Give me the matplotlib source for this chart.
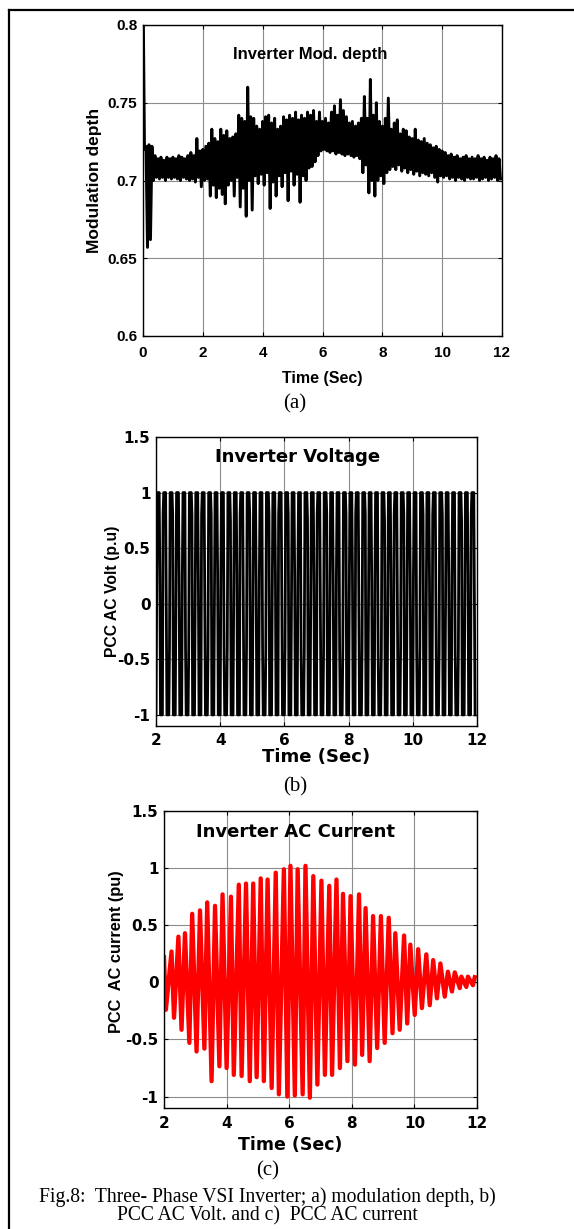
import numpy as np
import matplotlib
matplotlib.use("Agg")
import matplotlib.pyplot as plt
from matplotlib.lines import Line2D

# ---------------- data ----------------
# (a) modulation depth: upper / lower extremes of the trace every 0.1 s (0 .. 11.9 s)
mod_t = np.arange(0.0, 12.0, 0.1)
mod_hi = [0.830, 0.722, 0.723, 0.722, 0.716, 0.714, 0.715, 0.713, 0.715, 0.714,
          0.715, 0.714, 0.716, 0.715, 0.714, 0.716, 0.718, 0.716, 0.727, 0.719,
          0.720, 0.722, 0.724, 0.733, 0.727, 0.725, 0.733, 0.729, 0.732, 0.727,
          0.728, 0.730, 0.742, 0.740, 0.738, 0.760, 0.741, 0.740, 0.735, 0.733,
          0.738, 0.741, 0.742, 0.737, 0.740, 0.733, 0.735, 0.741, 0.739, 0.742,
          0.740, 0.744, 0.739, 0.742, 0.740, 0.744, 0.742, 0.745, 0.738, 0.744,
          0.738, 0.740, 0.737, 0.744, 0.748, 0.742, 0.752, 0.745, 0.741, 0.737,
          0.738, 0.735, 0.737, 0.740, 0.754, 0.740, 0.765, 0.742, 0.750, 0.738,
          0.735, 0.740, 0.753, 0.733, 0.737, 0.739, 0.730, 0.733, 0.732, 0.728,
          0.727, 0.733, 0.726, 0.725, 0.727, 0.724, 0.723, 0.721, 0.722, 0.720,
          0.719, 0.718, 0.716, 0.717, 0.715, 0.716, 0.714, 0.715, 0.716, 0.714,
          0.715, 0.714, 0.716, 0.714, 0.715, 0.713, 0.715, 0.714, 0.716, 0.714]
mod_lo = [0.720, 0.657, 0.662, 0.700, 0.702, 0.701, 0.702, 0.700, 0.702, 0.701,
          0.702, 0.701, 0.700, 0.702, 0.701, 0.700, 0.701, 0.699, 0.702, 0.696,
          0.700, 0.701, 0.690, 0.697, 0.689, 0.695, 0.691, 0.685, 0.697, 0.700,
          0.690, 0.702, 0.683, 0.695, 0.677, 0.700, 0.681, 0.703, 0.698, 0.704,
          0.697, 0.705, 0.682, 0.699, 0.690, 0.703, 0.696, 0.705, 0.687, 0.706,
          0.697, 0.704, 0.686, 0.703, 0.700, 0.708, 0.709, 0.712, 0.716, 0.719,
          0.720, 0.719, 0.718, 0.719, 0.717, 0.718, 0.717, 0.716, 0.717, 0.716,
          0.715, 0.716, 0.714, 0.705, 0.710, 0.692, 0.700, 0.690, 0.700, 0.703,
          0.698, 0.705, 0.707, 0.709, 0.707, 0.710, 0.706, 0.708, 0.705, 0.707,
          0.704, 0.706, 0.703, 0.705, 0.704, 0.703, 0.705, 0.702, 0.699, 0.703,
          0.702, 0.703, 0.701, 0.702, 0.700, 0.702, 0.701, 0.700, 0.702, 0.701,
          0.701, 0.702, 0.700, 0.701, 0.702, 0.700, 0.701, 0.702, 0.700, 0.701]

# (b) inverter voltage: per-cycle levels (50 cycles between 2 s and 12 s)
volt_cycles = 50
volt_top = [1.0] * volt_cycles
volt_bot = [-1.0] * volt_cycles
volt_knee_dn = [0.25, -0.05, 0.80, 0.25, -0.40, 0.80, 0.20, -0.05, 0.80, 0.25,
                -0.45, 0.75, 0.25, -0.05, 0.80, 0.20, -0.40, 0.80, 0.25, -0.05,
                0.80, 0.25, -0.45, 0.75, 0.20, -0.05, 0.80, 0.25, -0.40, 0.80,
                0.25, -0.05, 0.80, 0.20, -0.45, 0.75, 0.25, -0.05, 0.80, 0.25,
                -0.40, 0.80, 0.20, -0.05, 0.80, 0.25, -0.45, 0.75, 0.25, 0.00]
volt_knee_up = [-0.05, 0.80, -0.40, -0.05, 0.25, -0.40, -0.05, 0.80, -0.45, -0.05,
                0.25, -0.40, -0.05, 0.80, -0.40, -0.05, 0.25, -0.45, -0.05, 0.80,
                -0.40, -0.05, 0.25, -0.40, -0.05, 0.80, -0.45, -0.05, 0.25, -0.40,
                -0.05, 0.80, -0.40, -0.05, 0.25, -0.45, -0.05, 0.80, -0.40, -0.05,
                0.25, -0.40, -0.05, 0.80, -0.45, -0.05, 0.25, -0.40, -0.05, 0.80]

# (c) inverter AC current: peak and trough tips
cur_peak_t = [2.00, 2.24, 2.46, 2.67, 2.90, 3.15, 3.38, 3.63, 3.87, 4.14, 4.39, 4.62,
              4.85, 5.09, 5.31, 5.57, 5.83, 6.04, 6.27, 6.52, 6.77, 7.03, 7.28, 7.51,
              7.72, 7.96, 8.23, 8.44, 8.68, 8.93, 9.18, 9.39, 9.67, 9.87, 10.12, 10.38,
              10.60, 10.83, 11.07, 11.29, 11.50, 11.71, 11.93]
cur_peak_v = [0.22, 0.27, 0.40, 0.43, 0.60, 0.63, 0.70, 0.67, 0.77, 0.75, 0.855, 0.865,
              0.865, 0.91, 0.90, 0.96, 0.99, 1.02, 0.99, 1.02, 0.93, 0.89, 0.845, 0.90,
              0.775, 0.755, 0.77, 0.65, 0.58, 0.58, 0.565, 0.43, 0.41, 0.33, 0.29, 0.245,
              0.195, 0.165, 0.093, 0.087, 0.05, 0.05, 0.045]
cur_trough_t = [2.06, 2.32, 2.56, 2.81, 3.04, 3.29, 3.52, 3.77, 4.00, 4.23, 4.48, 4.74,
                4.96, 5.19, 5.44, 5.67, 5.94, 6.18, 6.43, 6.66, 6.90, 7.14, 7.37, 7.62,
                7.86, 8.10, 8.33, 8.57, 8.81, 9.05, 9.30, 9.53, 9.77, 10.01, 10.24, 10.49,
                10.72, 10.97, 11.20, 11.45, 11.66, 11.87]
cur_trough_v = [-0.24, -0.31, -0.415, -0.53, -0.605, -0.58, -0.865, -0.735, -0.75, -0.81,
                -0.82, -0.865, -0.83, -0.865, -0.925, -0.98, -1.0, -0.99, -0.98, -1.01,
                -0.895, -0.81, -0.81, -0.75, -0.69, -0.72, -0.635, -0.69, -0.575, -0.53,
                -0.445, -0.415, -0.36, -0.285, -0.225, -0.2, -0.14, -0.125, -0.08, -0.05,
                -0.04, -0.025]

# ticks
a_xticks = [0, 2, 4, 6, 8, 10, 12]
a_yticks = [0.6, 0.65, 0.7, 0.75, 0.8]
a_ylabels = ["0.6", "0.65", "0.7", "0.75", "0.8"]
bc_xticks = [2, 4, 6, 8, 10, 12]
bc_yticks = [-1, -0.5, 0, 0.5, 1, 1.5]
bc_ylabels = ["-1", "-0.5", "0", "0.5", "1", "1.5"]

# ---------------- figure ----------------
W, H = 574, 1229
fig = plt.figure(figsize=(W / 100, H / 100), dpi=100)


def rect(l, r, t, b):
    return [l / W, 1 - b / H, (r - l) / W, (b - t) / H]


def fx(x):
    return x / W


def fy(y):
    return 1 - y / H


def style(ax, family, size, xpad):
    ax.tick_params(direction="in", top=True, right=True, length=3, width=0.8,
                   colors="k", pad=4)
    ax.tick_params(axis="x", pad=xpad)
    for lab in ax.get_xticklabels() + ax.get_yticklabels():
        lab.set_fontfamily(family)
        lab.set_fontweight("bold")
        lab.set_fontsize(size)
    ax.grid(True, color="0.55", lw=0.8)
    ax.set_axisbelow(True)
    for s in ax.spines.values():
        s.set_linewidth(1.0)


# ---- (a)
axA = fig.add_axes(rect(143, 502, 25, 336))
a_t = np.empty(2 * len(mod_t))
a_v = np.empty(2 * len(mod_t))
a_t[0::2] = mod_t
a_t[1::2] = mod_t + 0.05
a_v[0::2] = mod_hi
a_v[1::2] = mod_lo
axA.plot(a_t, a_v, color="k", lw=2.1)
axA.set_xlim(0, 12)
axA.set_ylim(0.6, 0.8)
axA.set_xticks(a_xticks)
axA.set_xticklabels([str(v) for v in a_xticks])
axA.set_yticks(a_yticks)
axA.set_yticklabels(a_ylabels)
style(axA, "Liberation Sans", 11, 7.5)
axA.text(0.465, 0.905, "Inverter Mod. depth", transform=axA.transAxes,
         ha="center", va="center", family="Liberation Sans", weight="bold", fontsize=12)
fig.text(fx(322), fy(378), "Time (Sec)", ha="center", va="center",
         family="Liberation Sans", weight="bold", fontsize=11.5)
fig.text(fx(95), fy(180), "Modulation depth", ha="center", va="center", rotation=90,
         family="Liberation Sans", weight="bold", fontsize=12.5)
fig.text(fx(295), fy(404), "(a)", ha="center", va="center",
         family="Liberation Serif", fontsize=15)

# ---- (b)
axB = fig.add_axes(rect(156, 477, 437, 726))
period = 10.0 / volt_cycles
b_t, b_v = [], []
for k in range(volt_cycles):
    t0 = 2.0 + k * period
    frac = [0.0, 0.1, 0.2, 0.5, 0.6, 0.7]
    vals = [volt_bot[k], volt_knee_up[k], volt_top[k], volt_top[k], volt_knee_dn[k], volt_bot[k]]
    for f, v in zip(frac, vals):
        b_t.append(t0 + f * period)
        b_v.append(v)
axB.plot(b_t, b_v, color="k", lw=2.0)
axB.set_xlim(2, 12)
axB.set_ylim(-1.1, 1.5)
axB.set_xticks(bc_xticks)
axB.set_xticklabels([str(v) for v in bc_xticks])
axB.set_yticks(bc_yticks)
axB.set_yticklabels(bc_ylabels)
style(axB, "DejaVu Sans", 11, 5)
axB.text(0.44, 0.93, "Inverter Voltage", transform=axB.transAxes,
         ha="center", va="center", family="DejaVu Sans", weight="bold", fontsize=13)
fig.text(fx(316), fy(757), "Time (Sec)", ha="center", va="center",
         family="DejaVu Sans", weight="bold", fontsize=13)
fig.text(fx(113), fy(591), "PCC AC Volt (p.u)", ha="center", va="center", rotation=90,
         family="Liberation Sans", weight="bold", fontsize=11.3)
fig.text(fx(295), fy(787), "(b)", ha="center", va="center",
         family="Liberation Serif", fontsize=15)

# ---- (c)
axC = fig.add_axes(rect(164, 477, 811, 1108))
c_t = np.array(cur_peak_t + cur_trough_t)
c_v = np.array(cur_peak_v + cur_trough_v)
order = np.argsort(c_t)
axC.plot(c_t[order], c_v[order], color="#ff0000", lw=3.1)
axC.set_xlim(2, 12)
axC.set_ylim(-1.1, 1.5)
axC.set_xticks(bc_xticks)
axC.set_xticklabels([str(v) for v in bc_xticks])
axC.set_yticks(bc_yticks)
axC.set_yticklabels(bc_ylabels)
style(axC, "DejaVu Sans", 11, 6)
axC.text(0.42, 0.93, "Inverter AC Current", transform=axC.transAxes,
         ha="center", va="center", family="DejaVu Sans", weight="bold", fontsize=13)
fig.text(fx(290), fy(1145), "Time (Sec)", ha="center", va="center",
         family="DejaVu Sans", weight="bold", fontsize=12.5)
fig.text(fx(117), fy(952), "PCC  AC current (pu)", ha="center", va="center", rotation=90,
         family="Liberation Sans", weight="bold", fontsize=11.8)
fig.text(fx(268), fy(1171), "(c)", ha="center", va="center",
         family="Liberation Serif", fontsize=15)

# caption
fig.text(fx(267), fy(1197), "Fig.8:  Three- Phase VSI Inverter; a) modulation depth, b)",
         ha="center", va="center", family="Liberation Serif", fontsize=14.1)
fig.text(fx(267), fy(1216), "PCC AC Volt. and c)  PCC AC current",
         ha="center", va="center", family="Liberation Serif", fontsize=14.1)

# outer frame (top and left edges)
fig.add_artist(Line2D([fx(8.5), 1.0], [fy(9.5), fy(9.5)], transform=fig.transFigure,
                      color="k", lw=1.6))
fig.add_artist(Line2D([fx(8.5), fx(8.5)], [fy(9.5), 0.0], transform=fig.transFigure,
                      color="k", lw=1.6))

fig.savefig("out.png", dpi=100)
